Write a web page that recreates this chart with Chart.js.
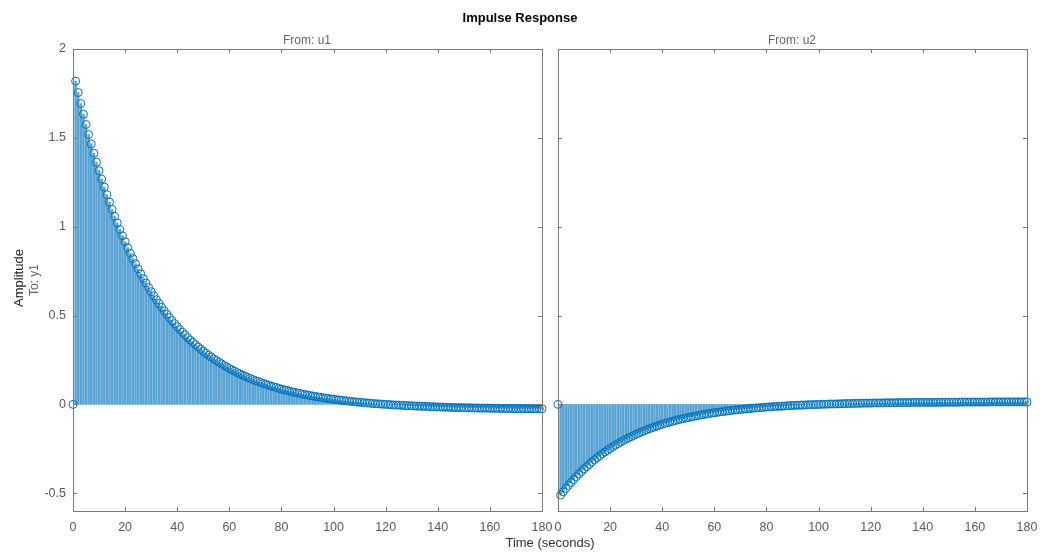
<!DOCTYPE html>
<html>
<head>
<meta charset="utf-8">
<script src="https://cdn.jsdelivr.net/npm/chart.js@4.4.1/dist/chart.umd.min.js"></script>
<style>
  body { margin: 0; background: #fff; font-family: "Liberation Sans", Arial, sans-serif; }
  #wrap { position: relative; width: 1040px; height: 552px; overflow: hidden; }
  canvas { position: absolute; top: 0; }
  .lbl { position: absolute; white-space: nowrap; transform: translate(-50%, -50%); }
</style>
</head>
<body>
<div id="wrap">
  <canvas id="leftPanel" width="560" height="552" style="left:0"></canvas>
  <canvas id="rightPanel" width="490" height="552" style="left:550px"></canvas>
  <div class="lbl" style="left:520px;top:17px;font-size:13px;font-weight:bold;color:#000">Impulse Response</div>
  <div class="lbl" style="left:307px;top:40px;font-size:12px;color:#666">From: u1</div>
  <div class="lbl" style="left:792px;top:40px;font-size:12px;color:#666">From: u2</div>
  <div class="lbl" style="left:18px;top:278px;font-size:13px;color:#222;transform:translate(-50%,-50%) rotate(-90deg)">Amplitude</div>
  <div class="lbl" style="left:34px;top:280px;font-size:12px;color:#666;transform:translate(-50%,-50%) rotate(-90deg)">To: y1</div>
  <div class="lbl" style="left:550px;top:542px;font-size:13px;color:#333">Time (seconds)</div>
</div>
<script>
// sample times (seconds)
const timeSec = [
  0, 1, 2, 3, 4, 5, 6, 7, 8, 9, 10,
  11, 12, 13, 14, 15, 16, 17, 18, 19, 20,
  21, 22, 23, 24, 25, 26, 27, 28, 29, 30,
  31, 32, 33, 34, 35, 36, 37, 38, 39, 40,
  41, 42, 43, 44, 45, 46, 47, 48, 49, 50,
  51, 52, 53, 54, 55, 56, 57, 58, 59, 60,
  61, 62, 63, 64, 65, 66, 67, 68, 69, 70,
  71, 72, 73, 74, 75, 76, 77, 78, 79, 80,
  81, 82, 83, 84, 85, 86, 87, 88, 89, 90,
  91, 92, 93, 94, 95, 96, 97, 98, 99, 100,
  101, 102, 103, 104, 105, 106, 107, 108, 109, 110,
  111, 112, 113, 114, 115, 116, 117, 118, 119, 120,
  121, 122, 123, 124, 125, 126, 127, 128, 129, 130,
  131, 132, 133, 134, 135, 136, 137, 138, 139, 140,
  141, 142, 143, 144, 145, 146, 147, 148, 149, 150,
  151, 152, 153, 154, 155, 156, 157, 158, 159, 160,
  161, 162, 163, 164, 165, 166, 167, 168, 169, 170,
  171, 172, 173, 174, 175, 176, 177, 178, 179, 180
];

// response from u1 to y1
const fromU1 = [
  0, 1.819, 1.755, 1.693, 1.633, 1.575, 1.519, 1.466, 1.413, 1.363, 1.315,
  1.268, 1.223, 1.180, 1.138, 1.097, 1.058, 1.021, 0.984, 0.949, 0.915,
  0.882, 0.850, 0.820, 0.791, 0.762, 0.735, 0.708, 0.683, 0.658, 0.634,
  0.611, 0.589, 0.568, 0.547, 0.527, 0.508, 0.489, 0.471, 0.454, 0.437,
  0.421, 0.406, 0.391, 0.376, 0.362, 0.349, 0.336, 0.323, 0.311, 0.299,
  0.288, 0.277, 0.267, 0.256, 0.247, 0.237, 0.228, 0.219, 0.211, 0.202,
  0.194, 0.187, 0.179, 0.172, 0.165, 0.159, 0.152, 0.146, 0.140, 0.134,
  0.129, 0.123, 0.118, 0.113, 0.108, 0.103, 0.099, 0.095, 0.090, 0.086,
  0.082, 0.079, 0.075, 0.071, 0.068, 0.065, 0.062, 0.058, 0.055, 0.053,
  0.050, 0.047, 0.045, 0.042, 0.040, 0.037, 0.035, 0.033, 0.031, 0.029,
  0.027, 0.025, 0.023, 0.021, 0.020, 0.018, 0.016, 0.015, 0.013, 0.012,
  0.011, 0.009, 0.008, 0.007, 0.005, 0.004, 0.003, 0.002, 0.001, 0.000,
  -0.001, -0.002, -0.003, -0.004, -0.004, -0.005, -0.006, -0.007, -0.008, -0.008,
  -0.009, -0.010, -0.010, -0.011, -0.011, -0.012, -0.013, -0.013, -0.014, -0.014,
  -0.015, -0.015, -0.016, -0.016, -0.017, -0.017, -0.018, -0.018, -0.018, -0.019,
  -0.019, -0.019, -0.020, -0.020, -0.020, -0.021, -0.021, -0.021, -0.021, -0.022,
  -0.022, -0.022, -0.022, -0.023, -0.023, -0.023, -0.023, -0.023, -0.024, -0.024,
  -0.024, -0.024, -0.024, -0.024, -0.024, -0.025, -0.025, -0.025, -0.025, -0.025
];

// response from u2 to y1
const fromU2 = [
  0, -0.510, -0.492, -0.473, -0.456, -0.439, -0.423, -0.407, -0.392, -0.377, -0.363,
  -0.350, -0.337, -0.324, -0.312, -0.300, -0.289, -0.278, -0.268, -0.258, -0.248,
  -0.239, -0.229, -0.221, -0.212, -0.204, -0.196, -0.189, -0.182, -0.175, -0.168,
  -0.162, -0.155, -0.149, -0.143, -0.137, -0.132, -0.127, -0.122, -0.117, -0.112,
  -0.107, -0.103, -0.099, -0.095, -0.091, -0.087, -0.084, -0.080, -0.077, -0.074,
  -0.071, -0.068, -0.065, -0.062, -0.059, -0.057, -0.054, -0.052, -0.049, -0.047,
  -0.045, -0.043, -0.041, -0.039, -0.037, -0.035, -0.033, -0.032, -0.030, -0.028,
  -0.027, -0.025, -0.024, -0.023, -0.021, -0.020, -0.019, -0.018, -0.017, -0.015,
  -0.014, -0.013, -0.012, -0.011, -0.011, -0.010, -0.009, -0.008, -0.007, -0.006,
  -0.006, -0.005, -0.004, -0.004, -0.003, -0.002, -0.002, -0.001, -0.001, 0.000,
  0.000, 0.001, 0.001, 0.002, 0.002, 0.002, 0.003, 0.003, 0.004, 0.004,
  0.005, 0.005, 0.005, 0.006, 0.006, 0.006, 0.007, 0.007, 0.007, 0.007,
  0.008, 0.008, 0.008, 0.008, 0.009, 0.009, 0.009, 0.009, 0.009, 0.010,
  0.010, 0.010, 0.010, 0.010, 0.010, 0.011, 0.011, 0.011, 0.011, 0.011,
  0.011, 0.011, 0.011, 0.011, 0.011, 0.012, 0.012, 0.012, 0.012, 0.012,
  0.012, 0.012, 0.012, 0.012, 0.013, 0.013, 0.013, 0.013, 0.013, 0.013,
  0.013, 0.013, 0.013, 0.013, 0.013, 0.014, 0.014, 0.014, 0.014, 0.014,
  0.014, 0.014, 0.014, 0.014, 0.014, 0.014, 0.014, 0.014, 0.014, 0.014
];

const xTicks = [0, 20, 40, 60, 80, 100, 120, 140, 160, 180];
const yTicks = [-0.5, 0, 0.5, 1, 1.5, 2];

const stemBlue = '#0072BD';
const axisGray = '#7a7a7a';
const labelGray = '#5a5a5a';

// matlab style box with inward ticks
const boxPlugin = {
  id: 'matlabBox',
  afterDraw(chart) {
    const { ctx, chartArea: a, scales } = chart;
    ctx.save();
    ctx.strokeStyle = axisGray;
    ctx.lineWidth = 1;
    ctx.strokeRect(Math.round(a.left) + 0.5, Math.round(a.top) + 0.5,
      Math.round(a.right - a.left), Math.round(a.bottom - a.top));
    ctx.beginPath();
    xTicks.forEach(v => {
      const px = Math.round(scales.x.getPixelForValue(v)) + 0.5;
      ctx.moveTo(px, a.bottom); ctx.lineTo(px, a.bottom - 4);
      ctx.moveTo(px, a.top); ctx.lineTo(px, a.top + 4);
    });
    yTicks.forEach(v => {
      const py = Math.round(scales.y.getPixelForValue(v)) + 0.5;
      ctx.moveTo(a.left, py); ctx.lineTo(a.left + 4, py);
      ctx.moveTo(a.right, py); ctx.lineTo(a.right - 4, py);
    });
    ctx.stroke();
    ctx.restore();
  }
};

function makePanel(canvasId, values, showYLabels, padding) {
  const pts = timeSec.map((t, i) => ({ x: t, y: values[i] }));
  return new Chart(document.getElementById(canvasId), {
    type: 'bar',
    data: {
      datasets: [
        {
          type: 'line',
          data: pts,
          showLine: false,
          pointStyle: 'circle',
          pointRadius: 4,
          pointBorderWidth: 1,
          pointBorderColor: stemBlue,
          pointBackgroundColor: 'rgba(0,0,0,0)',
          clip: false,
          order: 0
        },
        {
          type: 'bar',
          data: pts,
          backgroundColor: 'rgba(0,114,189,0.65)',
          barThickness: 1.8,
          order: 1
        }
      ]
    },
    options: {
      responsive: false,
      animation: false,
      devicePixelRatio: 1,
      layout: { padding: padding },
      plugins: { legend: { display: false }, tooltip: { enabled: false } },
      scales: {
        x: {
          type: 'linear',
          min: 0,
          max: 180,
          offset: false,
          grid: { display: false, drawTicks: false, tickLength: 0 },
          border: { display: false },
          afterBuildTicks: s => { s.ticks = xTicks.map(v => ({ value: v })); },
          afterFit: s => { s.height = 41; s.paddingLeft = 0; s.paddingRight = 0; },
          ticks: {
            autoSkip: false,
            maxRotation: 0,
            padding: 9,
            color: labelGray,
            font: { family: '"Liberation Sans", Arial, sans-serif', size: 12.5 },
            callback: v => String(v)
          }
        },
        y: {
          min: -0.6,
          max: 2,
          grid: { display: false, drawTicks: false, tickLength: 0 },
          border: { display: false },
          afterBuildTicks: s => { s.ticks = yTicks.map(v => ({ value: v })); },
          afterFit: s => { s.width = showYLabels ? 73 : 0; s.paddingTop = 0; s.paddingBottom = 0; },
          ticks: {
            display: showYLabels,
            padding: 7,
            color: labelGray,
            font: { family: '"Liberation Sans", Arial, sans-serif', size: 12.5 },
            callback: v => String(v)
          }
        }
      }
    },
    plugins: [boxPlugin]
  });
}

makePanel('leftPanel', fromU1, true, { top: 49, right: 18, left: 0, bottom: 0 });
makePanel('rightPanel', fromU2, false, { top: 49, right: 13, left: 8, bottom: 0 });
</script>
</body>
</html>
